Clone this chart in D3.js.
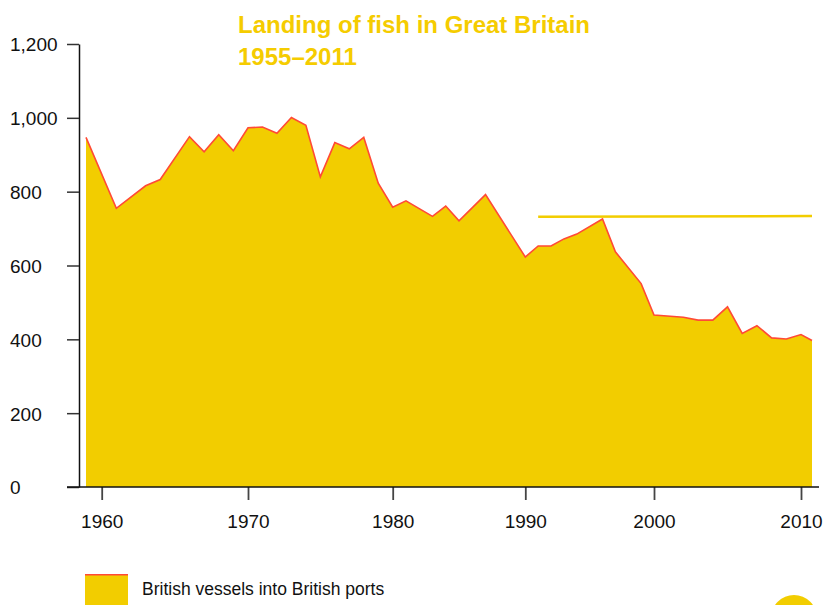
<!DOCTYPE html>
<html lang="en">
<head>
    <meta charset="UTF-8">
    <title>Landing of fish in Great Britain</title>
    <script src="https://d3js.org/d3.v7.min.js"></script>
    <style>
        body { margin: 0; background: #fff; }
        svg { display: block; font-family: "Liberation Sans", Arial, sans-serif; }
    </style>
</head>
<body>
    <div id="chart"></div>

    <script>
        // landings (thousand tonnes)
        const years = [1959, 1961, 1963, 1964, 1966, 1967, 1968, 1969, 1970, 1971,
            1972, 1973, 1974, 1975, 1976, 1977, 1978, 1979, 1980, 1981,
            1983, 1984, 1985, 1987, 1990, 1991, 1992, 1993, 1994, 1996,
            1997, 1999, 2000, 2002, 2003, 2004, 2005, 2006, 2007, 2008,
            2009, 2010, 2011];
        const landings = [947, 755, 816, 833, 949, 908, 954, 911, 973, 975,
            958, 1001, 980, 840, 933, 916, 947, 823, 758, 775,
            733, 761, 721, 792, 623, 653, 653, 672, 685, 726,
            637, 551, 466, 460, 452, 452, 488, 416, 437, 404,
            401, 413, 397];

        // flat marker line over the 1990s onwards
        const refYears = [1991, 2011];
        const refValues = [732, 734];

        const xTicks = [1960, 1970, 1980, 1990, 2000, 2010];
        const yTicks = [0, 200, 400, 600, 800, 1000, 1200];

        const titleLines = ["Landing of fish in Great Britain", "1955–2011"];
        const seriesName = "British vessels into British ports";

        const width = 830, height = 605;
        const yellow = "#f2cd00";
        const red = "#ff4a36";

        const svg = d3.select("#chart").append("svg")
            .attr("width", width)
            .attr("height", height);

        // the source axis is not evenly spaced, so use a piecewise scale
        const x = d3.scaleLinear()
            .domain([1959, 1960, 1970, 1980, 1990, 2000, 2010, 2011])
            .range([86, 101.7, 248, 392.7, 525.3, 654, 801, 812]);

        const y = d3.scaleLinear()
            .domain([0, 1200])
            .range([487, 44]);

        const points = years.map((yr, i) => ({ year: yr, value: landings[i] }));

        // area
        svg.append("path")
            .datum(points)
            .attr("fill", yellow)
            .attr("d", d3.area()
                .x(d => x(d.year))
                .y0(y(0))
                .y1(d => y(d.value)));

        svg.append("path")
            .datum(points)
            .attr("fill", "none")
            .attr("stroke", red)
            .attr("stroke-width", 1.6)
            .attr("stroke-linejoin", "miter")
            .attr("d", d3.line()
                .x(d => x(d.year))
                .y(d => y(d.value)));

        // marker line
        svg.append("path")
            .datum(refYears.map((yr, i) => ({ year: yr, value: refValues[i] })))
            .attr("fill", "none")
            .attr("stroke", yellow)
            .attr("stroke-width", 2.5)
            .attr("d", d3.line()
                .x(d => x(d.year))
                .y(d => y(d.value)));

        // y axis
        const yAxis = svg.append("g")
            .attr("transform", "translate(79,0)")
            .call(d3.axisLeft(y)
                .tickValues(yTicks)
                .tickSize(12)
                .tickSizeOuter(0)
                .tickFormat(d3.format(",")));
        yAxis.select(".domain").attr("stroke", "#111").attr("stroke-width", 1.5);
        yAxis.selectAll(".tick line").attr("stroke", "#333").attr("stroke-width", 1.5);
        yAxis.selectAll(".tick text")
            .attr("x", -69)
            .attr("dy", "0.36em")
            .attr("text-anchor", "start")
            .attr("fill", "#111")
            .attr("font-size", 19);

        // x axis
        const xAxis = svg.append("g")
            .attr("transform", `translate(0,${y(0)})`)
            .call(d3.axisBottom(x)
                .tickValues(xTicks)
                .tickSize(13)
                .tickSizeOuter(0)
                .tickFormat(d3.format("d")));
        xAxis.select(".domain").remove();
        xAxis.append("line")
            .attr("x1", 67)
            .attr("x2", 819)
            .attr("stroke", "#111")
            .attr("stroke-width", 1.5);
        xAxis.selectAll(".tick line").attr("stroke", "#444").attr("stroke-width", 1.8);
        xAxis.selectAll(".tick text")
            .attr("y", 41)
            .attr("dy", 0)
            .attr("fill", "#111")
            .attr("font-size", 19);

        // title
        svg.append("text")
            .attr("x", 238)
            .attr("y", 33)
            .attr("fill", "#f5cc00")
            .attr("font-size", 24)
            .attr("font-weight", "bold")
            .selectAll("tspan")
            .data(titleLines)
            .join("tspan")
            .attr("x", 238)
            .attr("dy", (d, i) => i === 0 ? 0 : 32)
            .text(d => d);

        // legend
        const legend = svg.append("g").attr("transform", "translate(85,574)");
        legend.append("rect")
            .attr("width", 43)
            .attr("height", 40)
            .attr("fill", yellow);
        legend.append("line")
            .attr("x2", 43)
            .attr("y1", 0.75)
            .attr("y2", 0.75)
            .attr("stroke", red)
            .attr("stroke-width", 1.5);
        legend.append("text")
            .attr("x", 57)
            .attr("y", 21)
            .attr("fill", "#111")
            .attr("font-size", 17.5)
            .text(seriesName);

        // corner badge, mostly cut off by the page edge
        svg.append("circle")
            .attr("cx", 794)
            .attr("cy", 618)
            .attr("r", 23)
            .attr("fill", yellow);
    </script>
</body>
</html>
